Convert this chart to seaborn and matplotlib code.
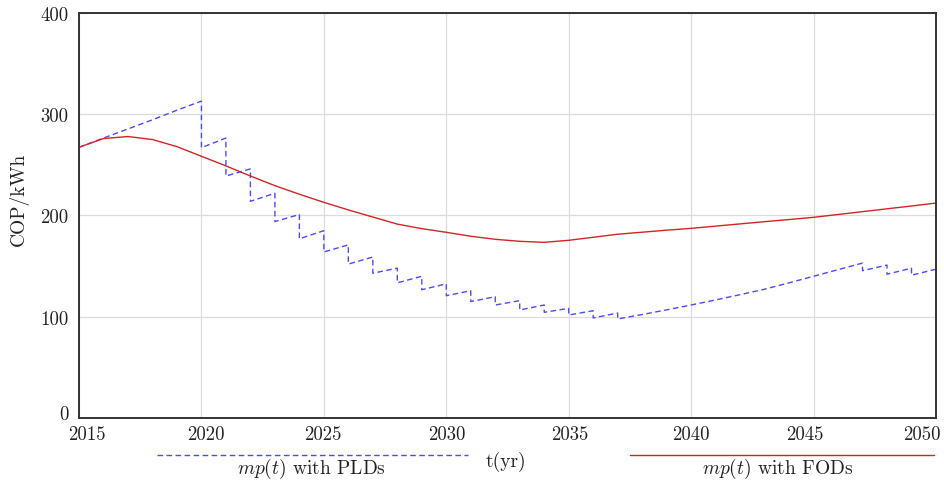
import numpy as np
import pandas as pd
import matplotlib
matplotlib.use("Agg")
import matplotlib.pyplot as plt
import seaborn as sns
from matplotlib.lines import Line2D
from matplotlib.transforms import ScaledTranslation

# ---- data ----
years = list(range(2015, 2051))
fod_values = [267.4, 276, 278, 275, 268, 258.5, 249, 239, 229.5, 221, 213, 205.5,
              198.5, 191.5, 187, 183.4, 179.5, 176.5, 174.5, 173.5, 175.5, 178.5,
              181.5, 183.5, 185.5, 187.3, 189.5, 191.7, 193.9, 196, 198.2, 201,
              203.8, 206.6, 209.4, 212.3]

# PLD saw-tooth: (year, value) vertices in drawing order
pld_years = [2015, 2016, 2017, 2018, 2019, 2020,
             2020, 2021, 2021, 2022, 2022, 2023, 2023, 2024, 2024, 2025, 2025, 2026,
             2026, 2027, 2027, 2028, 2028, 2029, 2029, 2030, 2030, 2031, 2031, 2032,
             2032, 2033, 2033, 2034, 2034, 2035, 2035, 2036, 2036, 2037, 2037,
             2038, 2039, 2040, 2041, 2042, 2043, 2044, 2045, 2046, 2047,
             2047, 2048, 2048, 2049, 2049, 2050]
pld_values = [267.4, 276.5, 285.5, 294.5, 304, 313,
              267, 276.5, 239, 246, 214, 222, 194, 201, 177, 185, 164, 171,
              152, 159, 143, 148, 133.5, 140, 126.7, 132.5, 120.8, 125.7, 115, 119.8,
              111.6, 115.9, 106.7, 111.6, 104.4, 108.3, 101.7, 106, 98.8, 103.7, 97.8,
              102.2, 106.8, 111.6, 116.6, 121.8, 127.2, 133.5, 140, 146.5, 153,
              145.5, 151, 142, 148, 141, 147]

x_ticks = [2015, 2020, 2025, 2030, 2035, 2040, 2045, 2050]
y_ticks = [0, 100, 200, 300, 400]

pld_label = r"$mp(t)$ with PLDs"
fod_label = r"$mp(t)$ with FODs"
x_label = "t(yr)"
y_label = "COP/kWh"

# small nudges (pixels) of the tick labels, as in the reference
x_label_nudge = [8, 4, -1, 1, 1, 0, -9, -14]
y_label_nudge = [6, 0, 0, 0, 0]

# ---- style ----
sns.set_theme(style="whitegrid")
plt.rcParams["font.family"] = ["cmr10", "DejaVu Serif"]
plt.rcParams["mathtext.fontset"] = "cm"
plt.rcParams["axes.formatter.use_mathtext"] = True

blue = "#4a4aff"
red = "#d42424"
txt = "#222222"

fig = plt.figure(figsize=(9.44, 4.81), dpi=100)
ax = fig.add_axes([0.0837, 0.1289, 0.9078, 0.842])

fod_df = pd.DataFrame({"year": years, "value": fod_values})
pld_df = pd.DataFrame({"year": pld_years, "value": pld_values})

sns.lineplot(data=pld_df, x="year", y="value", estimator=None, sort=False,
             color=blue, linewidth=1.0, linestyle=(0, (4, 2.5)), ax=ax)
sns.lineplot(data=fod_df, x="year", y="value", estimator=None, sort=False,
             color=red, linewidth=1.0, ax=ax)

ax.set_xlim(2015, 2050)
ax.set_ylim(0, 400)
ax.set_xticks(x_ticks)
ax.set_yticks(y_ticks)
ax.set_xticklabels([str(t) for t in x_ticks])
ax.set_yticklabels([str(t) for t in y_ticks])
ax.set_xlabel("")
ax.set_ylabel(y_label, fontsize=14, color=txt)
ax.yaxis.set_label_coords(-0.058, 0.543)
ax.tick_params(axis="x", labelsize=13.5, colors=txt, length=0, pad=5)
ax.tick_params(axis="y", labelsize=13.5, colors=txt, length=0, pad=7.5)
ax.grid(True, color="#dcdcdc", linewidth=0.9)
for s in ax.spines.values():
    s.set_visible(True)
    s.set_color("#333333")
    s.set_linewidth(1.4)

for lab, dx in zip(ax.get_xticklabels(), x_label_nudge):
    lab.set_transform(lab.get_transform() + ScaledTranslation(dx / 100, 0, fig.dpi_scale_trans))
for lab, dy in zip(ax.get_yticklabels(), y_label_nudge):
    lab.set_transform(lab.get_transform() + ScaledTranslation(0, dy / 100, fig.dpi_scale_trans))

# legend-like annotation below the axes
ly = 1 - 456 / 481
fig.add_artist(Line2D([157 / 944, 468 / 944], [ly, ly],
                      transform=fig.transFigure, color=blue, linewidth=1.0,
                      linestyle=(0, (4, 2.5))))
fig.add_artist(Line2D([630 / 944, 934 / 944], [ly, ly],
                      transform=fig.transFigure, color=red, linewidth=1.0))
fig.text(311 / 944, 1 - 469 / 481, pld_label, ha="center", va="center",
         fontsize=14, color=txt)
fig.text(778 / 944, 1 - 469 / 481, fod_label, ha="center", va="center",
         fontsize=14, color=txt)
fig.text(506 / 944, 1 - 462 / 481, x_label, ha="center", va="center",
         fontsize=14, color=txt)

fig.savefig("out.png", dpi=100)
